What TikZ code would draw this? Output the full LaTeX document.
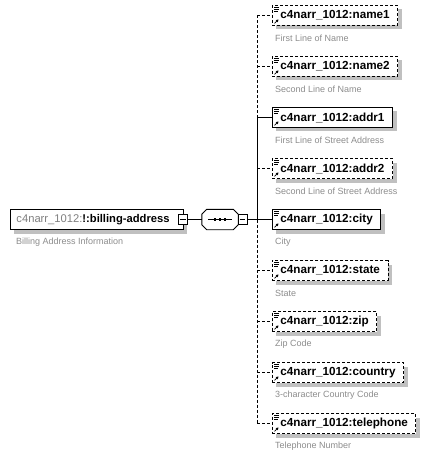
\documentclass[tikz,border=0pt]{standalone}
\usepackage{fontspec}
\setmainfont{Liberation Sans}
\usetikzlibrary{shadows,arrows.meta}
\definecolor{desccol}{RGB}{140,140,140}
\definecolor{shadecol}{RGB}{192,192,192}
\definecolor{prefcol}{RGB}{128,128,128}
\newcommand\elemicons[1]{%
  \draw[line width=0.6pt] ([shift={(2,2.5)}]#1.north west) -- ++(5,0)
    ([shift={(2,4.5)}]#1.north west) -- ++(5,0)
    ([shift={(2,6.5)}]#1.north west) -- ++(4,0);
  \draw[line width=0.7pt,-{Triangle[length=2.5pt,width=2.8pt]}]
    ([shift={(2.5,-2.5)}]#1.south west) -- ++(4,-4);}
\begin{document}
\begin{tikzpicture}[x=1pt,y=-1pt,
  elem/.style={draw,fill=white,line width=0.9pt,anchor=west,minimum height=20pt,
    inner xsep=8pt,inner ysep=0pt,font=\fontsize{11.7}{12}\selectfont\bfseries,
    drop shadow={shadow xshift=4pt,shadow yshift=-4pt,fill=shadecol,opacity=1}},
  opt/.style={elem,dash pattern=on 3pt off 2pt},
  desc/.style={anchor=west,inner sep=0pt,text=desccol,font=\fontsize{9}{10}\selectfont},
  minusbox/.style={draw,fill=white,minimum width=9pt,minimum height=10pt,inner sep=0pt,line width=0.7pt},
  conn/.style={line width=0.8pt},
  optconn/.style={conn,dash pattern=on 3pt off 2pt}]
\useasboundingbox (0,0) rectangle (430,457);

% main element
\node[elem,inner xsep=6pt,minimum width=173pt,font=\fontsize{11.2}{12}\selectfont\bfseries] (main) at (10,219.5)
  {\makebox[161pt][l]{\textcolor{prefcol}{\mdseries c4narr\_1012:}!:billing-address}};
\node[desc] (maind) at (16,242.5) {Billing Address Information};
\node[minusbox] (mm) at (183,219.5) {};
\draw[line width=0.7pt] ([xshift=2pt]mm.west) -- ([xshift=-2pt]mm.east);

% sequence compositor
\node[minimum width=36pt,minimum height=20pt,inner sep=0pt] (seq) at (220,219.5) {};
\fill[shadecol,shift={(4,4)}] ([xshift=5pt]seq.north west) -- ([xshift=-5pt]seq.north east)
  -- ([yshift=-5pt]seq.north east) -- ([yshift=5pt]seq.south east)
  -- ([xshift=-5pt]seq.south east) -- ([xshift=5pt]seq.south west)
  -- ([yshift=5pt]seq.south west) -- ([yshift=-5pt]seq.north west) -- cycle;
\draw[line width=0.9pt,fill=white] ([xshift=5pt]seq.north west) -- ([xshift=-5pt]seq.north east)
  -- ([yshift=-5pt]seq.north east) -- ([yshift=5pt]seq.south east)
  -- ([xshift=-5pt]seq.south east) -- ([xshift=5pt]seq.south west)
  -- ([yshift=5pt]seq.south west) -- ([yshift=-5pt]seq.north west) -- cycle;
\draw[line width=0.8pt] ([xshift=6pt]seq.west) -- ([xshift=-6pt]seq.east);
\foreach \dx in {-5,0,5} \fill ([xshift=\dx pt]seq.center) ++(-1.4,-1.4) rectangle ++(2.8,2.8);
\node[minusbox] (sm) at (242.5,219.5) {};
\draw[line width=0.7pt] ([xshift=2pt]sm.west) -- ([xshift=-2pt]sm.east);
\draw[conn] (mm.east) -- (seq.west);

% children
\node[opt] (c1) at (272,15.5) {c4narr\_1012:name1};
\node[desc] (d1) at (275,38.5) {First Line of Name};
\node[opt] (c2) at (272,66.5) {c4narr\_1012:name2};
\node[desc] (d2) at (275,89.5) {Second Line of Name};
\node[elem] (c3) at (272,117.5) {c4narr\_1012:addr1};
\node[desc] (d3) at (275,140.5) {First Line of Street Address};
\node[opt] (c4) at (272,168.5) {c4narr\_1012:addr2};
\node[desc] (d4) at (275,191.5) {Second Line of Street Address};
\node[elem] (c5) at (272,219.5) {c4narr\_1012:city};
\node[desc] (d5) at (275,242.5) {City};
\node[opt] (c6) at (272,270.5) {c4narr\_1012:state};
\node[desc] (d6) at (275,293.5) {State};
\node[opt] (c7) at (272,321.5) {c4narr\_1012:zip};
\node[desc] (d7) at (275,344.5) {Zip Code};
\node[opt] (c8) at (272,372.5) {c4narr\_1012:country};
\node[desc] (d8) at (275,395.5) {3-character Country Code};
\node[opt] (c9) at (272,423.5) {c4narr\_1012:telephone};
\node[desc] (d9) at (275,446.5) {Telephone Number};
\foreach \n in {c1,c2,c3,c4,c5,c6,c7,c8,c9} {\elemicons{\n}}

% bus
\foreach \i/\yy in {1/15.5,2/66.5,3/117.5,4/168.5,5/219.5,6/270.5,7/321.5,8/372.5,9/423.5}
  \coordinate (b\i) at (257,\yy);
\draw[optconn] (b1) -- (b3);
\draw[conn] (b3) -- (b5);
\draw[optconn] (b5) -- (b9);
\draw[optconn] (b1) -- (c1.west);
\draw[optconn] (b2) -- (c2.west);
\draw[conn] (b3) -- (c3.west);
\draw[optconn] (b4) -- (c4.west);
\draw[conn] (sm.east) -- (c5.west);
\draw[optconn] (b6) -- (c6.west);
\draw[optconn] (b7) -- (c7.west);
\draw[optconn] (b8) -- (c8.west);
\draw[optconn] (b9) -- (c9.west);
\end{tikzpicture}
\end{document}
